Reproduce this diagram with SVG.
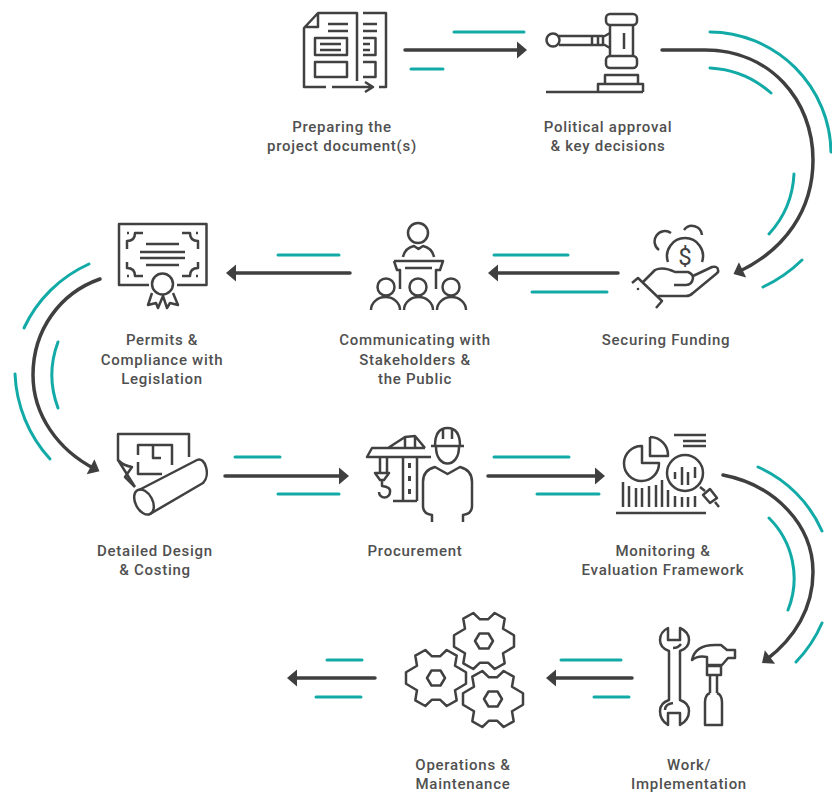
<svg xmlns="http://www.w3.org/2000/svg" xmlns:xlink="http://www.w3.org/1999/xlink" width="832" height="793" viewBox="0 0 832 793">
<style>
.t{font-family:"Roboto","Liberation Sans",sans-serif;font-size:15px;font-weight:500;fill:#505050;text-anchor:middle;letter-spacing:.72px}
.i{fill:none;stroke:#414141;stroke-width:2.5;stroke-linejoin:round}
.k{fill:none;stroke:#3f3f3f;stroke-width:3.5;stroke-linecap:round}
.a{fill:none;stroke:#3f3f3f;stroke-width:3.5;stroke-linecap:round;marker-end:url(#h)}
.g{fill:none;stroke:#12aaa6;stroke-width:3;stroke-linecap:round}
</style>
<defs>
<marker id="h" markerUnits="userSpaceOnUse" markerWidth="14" markerHeight="20" viewBox="-11 -10 14 20" refX="-5" refY="0" orient="auto" overflow="visible"><path d="M-10 -8.5L0 0L-10 8.5Z" fill="#3f3f3f"/></marker>
<g id="gear"><path class="i" d="M4 -21.7L10.7 -28L20.7 -22.3L19 -12.3L30 -5.7V5.7L19 12.3L20.7 22.3L10.7 28L4 21.7H-4L-10.7 28L-20.7 22.3L-19 12.3L-30 5.7V-5.7L-19 -12.3L-20.7 -22.3L-10.7 -28L-4 -21.7Z"/><path class="i" d="M-9 0L-4.5 -7.5H4.5L9 0L4.500 7.500H-4.500Z"/></g>
</defs>
<g id="connectors">
<path class="a" d="M405 50H522"/>
<path class="a" d="M662 50H705C770 50 813 100 813 160C813 210 785 250 738 272"/>
<path class="a" d="M618 273H493"/>
<path class="a" d="M350 273H231"/>
<path class="a" d="M100 279C60 293 33 330 33 375C33 415 58 450 95 469"/>
<path class="a" d="M225 476H344"/>
<path class="a" d="M488 476H600"/>
<path class="a" d="M723 475C775 485 813 525 813 572C813 608 795 638 766 660"/>
<path class="a" d="M632 678H551"/>
<path class="a" d="M375 678H292"/>
<path class="g" d="M454 32H524M411 69H443"/>
<path class="g" d="M710 32A122 122 0 0 1 831 152M710 68A100 100 0 0 1 771 93M794 174A96 96 0 0 1 769 234M802 260A140 140 0 0 1 763 287"/>
<path class="g" d="M494 255H568M532 292H607M278 255H339"/>
<path class="g" d="M89 264A130 130 0 0 0 24 328M15 374A135 135 0 0 0 50 459M58 342A94 94 0 0 0 58 408"/>
<path class="g" d="M235 457H280M278 494H339M494 457H569M537 494H599"/>
<path class="g" d="M758 467A125 125 0 0 1 822 531M769 518A85 85 0 0 1 788 610M822 623A130 130 0 0 1 796 662"/>
<path class="g" d="M561 660H621M594 697H629M327 660H362M316 697H361"/>
</g>
<g id="node-documents">
<path class="i" d="M326 87H304V28L318 13H357V81M318 13V27H304M332 87H373M365 82L373 87L365 92M363 13H386V87H379"/>
<path class="i" d="M328 24H348M328 31H348M363 24H377M363 31H377M320 44H341M320 50H341M363 44H370M363 50H370"/>
<rect class="i" x="315" y="38" width="32" height="17"/><rect class="i" x="315" y="62" width="32" height="15"/>
<path class="i" d="M363 38H375.500V55H363M363 62H375.500V77H363"/>
<text class="t" x="342" y="132">Preparing the</text><text class="t" x="342" y="151">project document(s)</text>
</g>
<g id="node-gavel">
<rect class="i" x="606" y="14" width="31" height="11" rx="4"/><rect class="i" x="606" y="56" width="31" height="12" rx="4"/>
<path class="i" d="M610 25V56M633 25V56M624 33V49"/>
<circle class="i" cx="553" cy="40" r="6.500"/>
<path class="i" d="M559 36H592V45H559M592 36H603V45H592M598 36V45M603 37L610 33M603 44L610 48"/>
<path class="i" d="M605 83V75H638V83M598 92V84H643V92M546 92H643"/>
<text class="t" x="608" y="132">Political approval</text><text class="t" x="608" y="151">&amp; key decisions</text>
</g>
<g id="node-funding">
<path class="i" d="M668 262A18 18 0 1 1 702 262M671 233A10 10 0 1 0 659 250M684 230A10 10 0 0 1 702 235"/>
<text x="685" y="265" style="font-family:'Roboto',sans-serif;font-size:24px;fill:#414141;text-anchor:middle">$</text>
<path class="i" d="M643 282L655 270Q663 266 675 272H688Q693 274 693 278Q692 285 686 285H674"/>
<path class="i" d="M693 276L712 267Q718 266 718 270Q719 272 716 274L693 293Q690 296 686 296H658"/>
<path class="i" d="M632 283L638 278L662 301L656 308"/><circle cx="638" cy="289" r="1.300" fill="#414141"/>
<text class="t" x="666" y="345">Securing Funding</text>
</g>
<g id="node-stakeholders">
<circle class="i" cx="418" cy="233" r="10"/>
<path class="i" d="M403 257Q405 248 414 246L418.500 249L423 246Q432 248 434 257"/>
<path class="i" d="M394 261H443L440 270H436V289M394 261L397 270H400V289M405 268H432"/>
<circle class="i" cx="386" cy="287" r="8.500"/><circle class="i" cx="418" cy="287" r="8.500"/><circle class="i" cx="451" cy="287" r="8.500"/>
<path class="i" d="M371 310A14.500 13 0 0 1 400 310M404 310A14.500 13 0 0 1 433 310M437 310A14.500 13 0 0 1 466 310"/>
<text class="t" x="415" y="345">Communicating with</text><text class="t" x="415" y="365">Stakeholders &amp;</text><text class="t" x="415" y="384">the Public</text>
</g>
<g id="node-permits">
<path class="i" d="M149 285H119V224H206.500V285H177"/>
<path class="i" d="M143 233H135Q135 241 127 241V249M182 233H190Q190 241 198 241V249M143 276H135Q135 268 127 268V262M182 276H190Q190 268 198 268V262"/>
<path d="M127 233h2M196 233h2M127 276h2M196 276h2" stroke="#414141" stroke-width="2.500"/>
<path class="i" d="M146 244H179M140 252H185M140 258H185M146 265H179"/>
<circle class="i" cx="162.500" cy="284" r="10.500"/>
<path class="i" d="M152 293L148 305L156 303L158 308L163 296L167 308L170 303L178 305L173 293"/>
<text class="t" x="162" y="345">Permits &amp;</text><text class="t" x="162" y="365">Compliance with</text><text class="t" x="162" y="384">Legislation</text>
</g>
<g id="node-design">
<path class="i" d="M189 457V434H118V460L135 487M118 460Q124 466 132 467L125 477L135 487"/>
<path class="i" d="M138 455V445H172V465M153 445V458H161M138 462V474H162"/>
<ellipse class="i" cx="144" cy="502" rx="8.500" ry="13.500" transform="rotate(-28 144 502)"/>
<path class="i" d="M139 490L197 460C205 456 211 475 203 483L150 514"/>
<text class="t" x="155" y="556">Detailed Design</text><text class="t" x="155" y="575">&amp; Costing</text>
</g>
<g id="node-procurement">
<path class="i" d="M431 457H367L372 448H425M388 448L405 437L415 436L425 448M405 437V448M415 437V448M403 457V501M417 457V501M393 501H417"/>
<path d="M408 463h3v5h-3zM408 476h3v5h-3zM408 489h3v5h-3z" fill="#414141"/>
<path class="i" d="M380 458V472M387 458V472M375 473H389L384 480H380ZM382 480V486Q391 487 390 492A5.500 5.500 0 0 1 379 492"/>
<path class="i" d="M435 446Q435 428 447.500 428Q460 428 460 446M431 446H464M443 439V428M452 439V428M436 447C436 469 459 469 459 447"/>
<path class="i" d="M432 522V515Q423 514 423 506V482Q423 470 435 467L447.500 474L460 467Q472 470 472 482V506Q472 514 463 515V522"/>
<text class="t" x="415" y="556">Procurement</text>
</g>
<g id="node-monitoring">
<path class="i" d="M642 446A17.500 17.500 0 1 0 659 463H642ZM650 437V456H668A18 18 0 0 0 650 437"/>
<path class="i" stroke-width="3" d="M674 435H706M683 441H706M683 446H706"/>
<circle class="i" cx="685" cy="473" r="18"/>
<path class="i" d="M700 487L705 491M703 495L710 489L717 498L710 503ZM715 502L719 507"/>
<path class="i" d="M675 472V479M682 467V485M688 472V485M695 467V478"/>
<path class="i" d="M623 507V482M629 507V486M636 507V488M642 507V488M649 507V486M656 507V485M662 507V480M668 507V490M675 507V496M682 507V497M688 507V497M695 507V496"/>
<path class="i" stroke-width="3" d="M616 513H706"/>
<text class="t" x="663" y="556">Monitoring &amp;</text><text class="t" x="663" y="575">Evaluation Framework</text>
</g>
<g id="node-work">
<path class="i" d="M668 628V640H680V628Q689 632 689 640Q689 648 680 651V700Q689 703 689 711Q689 720 680 725V713H668V725Q660 720 660 711Q660 703 669 700V651Q660 648 660 640Q660 632 668 628Z"/>
<path class="i" stroke-width="1.500" d="M681 644Q678 648 673 648M665 710Q665 704 673 703"/>
<path class="i" d="M692 660Q695 645 715 645H721L727 650H735V658H728L722 665H707V657Q698 655 692 660Z"/>
<path class="i" d="M707 666H721V675H707ZM710 675V693M717 675V693M710 693Q705 695 705 702V725H722V702Q722 695 717 693"/>
<text class="t" x="689" y="770">Work/</text><text class="t" x="689" y="789">Implementation</text>
</g>
<g id="node-operations">
<use xlink:href="#gear" href="#gear" x="484" y="641"/>
<use xlink:href="#gear" href="#gear" x="436" y="678"/>
<use xlink:href="#gear" href="#gear" x="493" y="699"/>
<text class="t" x="463" y="770">Operations &amp;</text><text class="t" x="463" y="789">Maintenance</text>
</g>
</svg>
